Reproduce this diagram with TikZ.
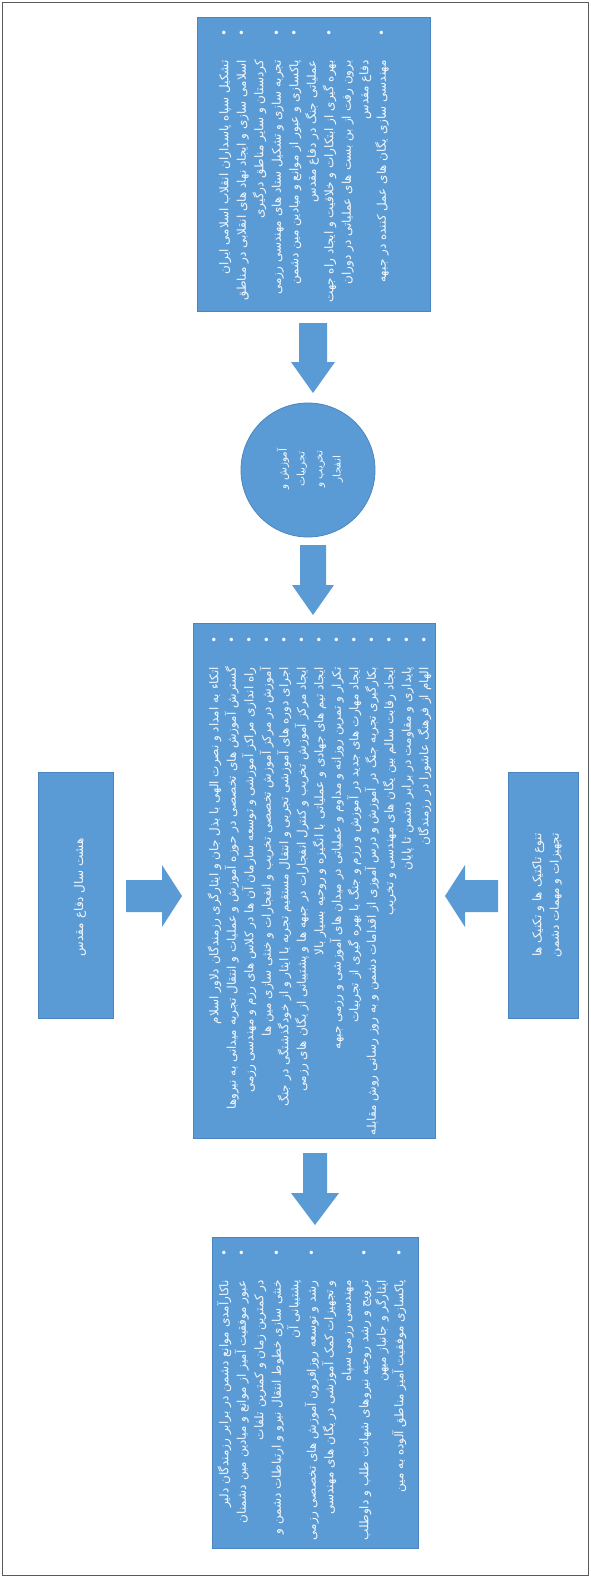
\documentclass[tikz,border=0pt]{standalone}
\usepackage{fontspec}
\newfontfamily\fa[Script=Arabic]{DejaVu Sans}
\TeXXeTstate=1
\usetikzlibrary{calc}
\definecolor{boxblue}{HTML}{5B9BD5}
\definecolor{boxline}{HTML}{4A85BF}
\definecolor{txtwhite}{HTML}{F4F8FC}
\definecolor{framegray}{HTML}{5A5A5A}
\newcommand\rl[1]{\beginR #1\endR}
\newcommand\bt{\textbullet}
\newcommand\blist[1]{{\fontsize{12}{17.5}\selectfont\begin{tabular}{@{}r@{\hspace{24pt}}c@{}}#1\end{tabular}}}
\tikzset{
  box/.style={rectangle, fill=boxblue, draw=boxline, line width=0.8pt, inner sep=0pt},
  roundbox/.style={circle, fill=boxblue, draw=boxline, line width=0.8pt, inner sep=0pt},
  txt/.style={text=txtwhite, font=\fa\fontsize{12}{17.5}\selectfont, inner sep=0pt, rotate=90},
  arr/.style={fill=boxblue}
}
\newcommand\downarrowblock[6]{% x, y1, y2, halfshaft, halfhead, headlen
  \fill[arr] ({#1-#4},#2) -- ({#1+#4},#2) -- ({#1+#4},{#3-#6}) -- ({#1+#5},{#3-#6}) -- (#1,#3) -- ({#1-#5},{#3-#6}) -- ({#1-#4},{#3-#6}) -- cycle;}
\newcommand\sidearrowblock[6]{% y, x1, x2(tip), halfshaft, halfhead, headlen (signed)
  \fill[arr] (#2,{#1-#4}) -- (#2,{#1+#4}) -- ({#3-#6},{#1+#4}) -- ({#3-#6},{#1+#5}) -- (#3,#1) -- ({#3-#6},{#1-#5}) -- ({#3-#6},{#1-#4}) -- cycle;}
\begin{document}
\begin{tikzpicture}[x=1pt,y=-1pt]
\useasboundingbox (0,0) rectangle (591,1578);
\fill[white] (0,0) rectangle (591,1578);
\draw[framegray, line width=1pt] (2.5,2.5) rectangle (588.5,1575.5);

% boxes
\node[box, minimum width=233pt, minimum height=294pt] (top) at (313.5,164.5) {};
\node[roundbox, minimum size=134pt] (circ) at (308,470) {};
\node[box, minimum width=242pt, minimum height=515pt] (main) at (314,880.5) {};
\node[box, minimum width=75pt, minimum height=246pt] (left) at (75.5,895) {};
\node[box, minimum width=70pt, minimum height=246pt] (right) at (543,895) {};
\node[box, minimum width=206pt, minimum height=311pt] (bottom) at (315,1392.5) {};

% arrows
\downarrowblock{313}{323}{393}{14}{22}{31}
\downarrowblock{313}{545}{615}{13}{21}{30}
\downarrowblock{315}{1153}{1225}{12}{24}{32}
\sidearrowblock{896}{126}{182}{16}{31}{20}
\sidearrowblock{896}{498}{445}{16}{31}{-20}

% texts
\node[txt, anchor=north east] (toptext) at (216,29) {\blist{%
\rl{تشکیل سپاه پاسداران انقلاب اسلامی ایران} & \bt\\
\rl{اسلامی سازی و ایجاد نهاد های انقلابی در مناطق} & \bt\\
\rl{کردستان و سایر مناطق درگیری} & \\
\rl{تجربه سازی و تشکیل ستاد های مهندسی رزمی} & \bt\\
\rl{پاکسازی و عبور از موانع و میادین مین دشمن} & \bt\\
\rl{عملیاتی جنگ در دفاع مقدس} & \\
\rl{بهره گیری از ابتکارات و خلاقیت و ایجاد راه جهت} & \bt\\
\rl{برون رفت از بن بست های عملیاتی در دوران} & \\
\rl{دفاع مقدس} & \\
\rl{مهندسی سازی یگان های عمل کننده در جبهه} & \bt\\
}};

\node[txt, align=center, font=\fa\fontsize{10.5}{18}\selectfont] (circtext) at (310,469) {%
\rl{آموزش و}\\ \rl{تجربیات}\\ \rl{تخریب و}\\ \rl{انفجار}};

\node[txt, anchor=north east] (maintext) at (206,636) {\blist{%
\rl{اتکاء به امداد و نصرت الهی با بذل جان و ایثارگری رزمندگان دلاور اسلام} & \bt\\
\rl{گسترش آموزش های تخصصی در حوزه آموزش و عملیات و انتقال تجربه میدانی به نیروها} & \bt\\
\rl{راه اندازی مراکز آموزشی و توسعه سازمان آن ها در کلاس های رزم و مهندسی رزمی} & \bt\\
\rl{آموزش در مرکز آموزش تخصصی تخریب و انفجارات و خنثی سازی مین ها} & \bt\\
\rl{اجرای دوره های آموزشی تجربی و انتقال مستقیم تجربه با ایثار و از خودگذشتگی در جنگ} & \bt\\
\rl{ایجاد مرکز آموزش تخریب و کنترل انفجارات در جبهه ها و پشتیبانی از یگان های رزمی} & \bt\\
\rl{ایجاد تیم های جهادی و عملیاتی با انگیزه و روحیه بسیار بالا} & \bt\\
\rl{تکرار و تمرین روزانه و مداوم و عملیاتی در میدان های آموزشی و رزمی جبهه} & \bt\\
\rl{ایجاد مهارت های جدید در آموزش و رزم و جنگ با بهره گیری از تجربیات} & \bt\\
\rl{بکارگیری تجربه جنگ در آموزش و درس آموزی از اقدامات دشمن و به روز رسانی روش مقابله} & \bt\\
\rl{ایجاد رقابت سالم بین یگان های مهندسی و تخریب} & \bt\\
\rl{پایداری و مقاومت در برابر دشمن تا پایان} & \bt\\
\rl{الهام از فرهنگ عاشورا در رزمندگان} & \bt\\
}};

\node[txt] (lefttext) at (80,897) {\rl{هشت سال دفاع مقدس}};
\node[txt, align=center] (righttext) at (547,895) {\rl{تنوع تاکتیک ها و تکنیک ها}\\ \rl{تجهیزات و مهمات دشمن}};

\node[txt, anchor=north east] (bottomtext) at (216,1249) {\blist{%
\rl{ناکارآمدی موانع دشمن در برابر رزمندگان دلیر} & \bt\\
\rl{عبور موفقیت آمیز از موانع و میادین مین دشمنان} & \bt\\
\rl{در کمترین زمان و کمترین تلفات} & \\
\rl{خنثی سازی خطوط انتقال نیرو و ارتباطات دشمن و} & \bt\\
\rl{پشتیبانی آن} & \\
\rl{رشد و توسعه روزافزون آموزش های تخصصی رزمی} & \bt\\
\rl{و تجهیزات کمک آموزشی در یگان های مهندسی} & \\
\rl{مهندسی رزمی سپاه} & \\
\rl{ترویج و رشد روحیه نیروهای شهادت طلب و داوطلب} & \bt\\
\rl{ایثارگر و جانباز میهن} & \\
\rl{پاکسازی موفقیت آمیز مناطق آلوده به مین} & \bt\\
}};
\end{tikzpicture}
\end{document}
